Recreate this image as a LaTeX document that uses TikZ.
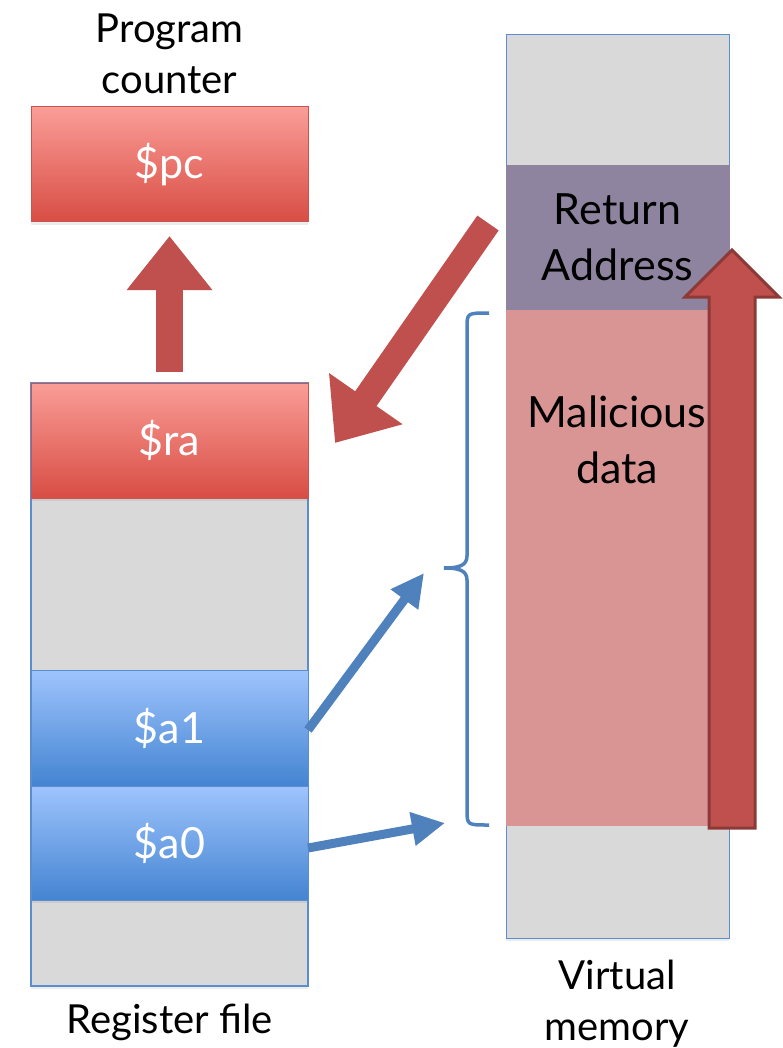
\documentclass[tikz,border=0pt]{standalone}
\usepackage{fontspec}
\setmainfont{Lato}
\usetikzlibrary{arrows.meta,shadows,calc}
\definecolor{redtop}{HTML}{FA9D97}
\definecolor{redbot}{HTML}{D84D44}
\definecolor{redline}{HTML}{C75450}
\definecolor{bluetop}{HTML}{9EC4FD}
\definecolor{bluebot}{HTML}{4484D1}
\definecolor{blueline}{HTML}{5B8ED0}
\definecolor{cellgray}{HTML}{D9D9D9}
\definecolor{arrowred}{HTML}{C0504D}
\definecolor{arrowdark}{HTML}{8C3A38}
\definecolor{arrowblue}{HTML}{4F81BD}
\definecolor{retpurple}{HTML}{8F84A0}
\definecolor{malpink}{HTML}{D99594}
\begin{document}
\begin{tikzpicture}[x=1pt,y=-1pt,
  box/.style={inner sep=0pt, outer sep=0pt, minimum width=277pt},
  softshadow/.style={drop shadow={shadow xshift=0pt, shadow yshift=-3pt, opacity=0.15}},
  redreg/.style={box, draw=redline, line width=1pt, top color=redtop, bottom color=redbot,
    text=white, font=\fontsize{43}{50}\selectfont, softshadow},
  bluereg/.style={box, draw=blueline, line width=1pt, top color=bluetop, bottom color=bluebot,
    text=white, font=\fontsize{43}{50}\selectfont, softshadow},
  graycol/.style={inner sep=0pt, outer sep=0pt, fill=cellgray, draw=blueline},
  caption/.style={align=center, font=\fontsize{40}{51}\selectfont, text=black, inner sep=0pt},
  memlabel/.style={align=center, font=\fontsize{43}{56}\selectfont, text=black, inner sep=0pt},
  fatred/.style={draw=arrowred, line width=27pt, -{Triangle[width=82pt,length=54pt]}},
  bluearrow/.style={draw=arrowblue, fill=arrowblue, line width=9pt, -{Triangle[width=32pt,length=33pt]}},
]
\useasboundingbox (0,0) rectangle (782,1048);

% register file column
\node[graycol, box, minimum height=603pt, line width=1.5pt, softshadow] (regfile) at (169.5,684.5) {};
\node[redreg, minimum height=115pt] (pc) at (169.5,164.5) {\$pc};
\node[redreg, minimum height=115pt] (ra) at (169.5,440.5) {\$ra};
\node[bluereg, minimum height=116pt] (a1) at (169.5,728) {\$a1};
\node[bluereg, minimum height=114pt] (a0) at (169.5,843) {\$a0};

\node[caption] (pccap) at (169.5,54) {Program\\counter};
\node[caption] (regcap) at (169.5,1022) {Register file};

% virtual memory column
\node[graycol, line width=1pt, minimum width=223pt, minimum height=903pt, softshadow] (mem) at (617.5,486.5) {};
\node[inner sep=0pt, outer sep=0pt, fill=retpurple, minimum width=224pt, minimum height=145pt,
  memlabel] (ret) at (617.5,237.5) {Return\\Address};
\node[inner sep=0pt, outer sep=0pt, fill=malpink, minimum width=224pt, minimum height=516pt] (mal) at (617.5,568) {};
\node[memlabel] (maltext) at (617,440) {Malicious\\data};
\node[caption] (memcap) at (617,1004) {Virtual\\memory};

% big upward red arrow over memory
\coordinate (ubl) at (709,828);
\coordinate (ubr) at (755,828);
\coordinate (utip) at (732,250);
\fill[arrowred, draw=arrowdark, line width=3pt, line join=miter]
  (ubl) -- (709,297) -- (685,297) -- (utip) -- (779,297) -- (755,297) -- (ubr) -- cycle;

% red arrow ra -> pc
\draw[fatred] ([yshift=11pt]ra.north) -- ([yshift=-14pt]pc.south);

% red arrow from return address to ra
\coordinate (dstart) at (488,223);
\coordinate (dtip) at (335,443);
\draw[fatred, line width=26pt, -{Triangle[width=86pt,length=54pt]}] (dstart) -- (dtip);

% bracket
\coordinate (brtop) at (489,313);
\coordinate (brmid) at (444,568);
\coordinate (brbot) at (489,825);
\draw[arrowblue, line width=3.5pt, line cap=butt]
  (brtop) .. controls (467,313) and (467,313) .. (467,328)
  -- (467,556) .. controls (467,566) and (458,568) .. (brmid)
  .. controls (458,568) and (467,570) .. (467,580)
  -- (467,810) .. controls (467,825) and (467,825) .. (brbot);

% blue arrows
\coordinate (t1) at (424,573);
\coordinate (t0) at (445,823);
\draw[bluearrow] ([yshift=-2pt]a1.east) -- (t1);
\draw[bluearrow] ([yshift=-5pt]a0.east) -- (t0);
\end{tikzpicture}
\end{document}
